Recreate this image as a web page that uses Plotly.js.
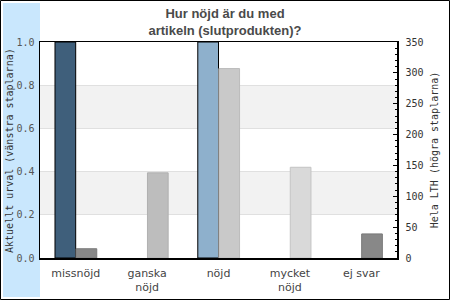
<!DOCTYPE html>
<html>
<head>
<meta charset="utf-8">
<script src="https://cdn.plot.ly/plotly-3.0.1.min.js"></script>
<style>html,body{margin:0;padding:0;background:#fff}#chart{width:450px;height:300px}</style>
</head>
<body>
<div id="chart"></div>
<script>
var categories = ['missnöjd', 'ganska<br>nöjd', 'nöjd', 'mycket<br>nöjd', 'ej svar'];
var urvalValues = [1.0, 0, 1.0, 0, 0];
var lthValues = [15, 138, 307, 147, 39];
var urvalColors = ['#3f5f7b', '#3f5f7b', '#8eb0cc', '#8eb0cc', '#8eb0cc'];
var lthColors = ['#888888', '#bdbdbd', '#c9c9c9', '#d9d9d9', '#888888'];
var lthLineColors = ['#7a7a7a', '#b0b0b0', '#bbbbbb', '#c4c4c4', '#7a7a7a'];
var titleText = 'Hur nöjd är du med<br>artikeln (slutprodukten)?';
var leftTitle = 'Aktuellt urval (vänstra staplarna)';
var rightTitle = 'Hela LTH (högra staplarna)';
var leftTicks = [0, 0.2, 0.4, 0.6, 0.8, 1.0];

var W = 450, H = 300, L = 40, R = 53, T = 42, B = 42;
var pw = W - L - R, ph = H - T - B;
function px(x) { return (x - L) / pw; }
function py(y) { return (H - B - y) / ph; }

var traces = [
  {
    type: 'bar', x: categories, y: urvalValues, yaxis: 'y',
    width: 0.29, offset: -0.29,
    marker: {color: urvalColors, line: {color: '#000', width: urvalValues.map(function (v) { return v ? 1 : 0; })}},
    hoverinfo: 'skip', showlegend: false
  },
  {
    type: 'bar', x: categories, y: lthValues, yaxis: 'y2',
    width: 0.29, offset: 0.005,
    marker: {color: lthColors, line: {color: lthLineColors, width: 1}},
    hoverinfo: 'skip', showlegend: false
  }
];

var shapes = [
  {type: 'rect', xref: 'paper', yref: 'paper', x0: px(3), x1: px(40), y0: py(297), y1: py(3),
   fillcolor: '#c9e7fd', line: {width: 0}, layer: 'below'},
  {type: 'rect', xref: 'paper', yref: 'y', x0: 0, x1: 1, y0: leftTicks[1], y1: leftTicks[2],
   fillcolor: '#f2f2f2', line: {width: 0}, layer: 'below'},
  {type: 'rect', xref: 'paper', yref: 'y', x0: 0, x1: 1, y0: leftTicks[3], y1: leftTicks[4],
   fillcolor: '#f2f2f2', line: {width: 0}, layer: 'below'},
  {type: 'rect', xref: 'paper', yref: 'paper', x0: px(0.5), x1: px(449.5), y0: py(299.5), y1: py(0.5),
   fillcolor: 'rgba(0,0,0,0)', line: {color: '#000', width: 1}, layer: 'above'}
];

var annotations = [
  {text: leftTitle, xref: 'paper', yref: 'paper', x: px(9.5), y: py(150.5),
   xanchor: 'center', yanchor: 'middle', textangle: -90, showarrow: false,
   font: {family: 'DejaVu Sans Mono, monospace', size: 10, color: '#333'}}
];

var layout = {
  width: W, height: H,
  margin: {l: L, r: R, t: T, b: B, pad: 0},
  paper_bgcolor: '#fff', plot_bgcolor: 'rgba(0,0,0,0)',
  showlegend: false,
  hovermode: false,
  title: {
    text: titleText,
    font: {family: 'Liberation Sans, Arial, sans-serif', size: 13, color: '#4a4a4a', weight: 'bold'},
    x: 0.5, xref: 'container', xanchor: 'center',
    y: 1 - 18 / H, yref: 'container', yanchor: 'top'
  },
  xaxis: {
    showline: true, linecolor: '#000', linewidth: 1.5, mirror: true,
    ticks: '', showgrid: false, zeroline: false,
    tickfont: {family: 'DejaVu Sans, sans-serif', size: 11, color: '#444'},
    ticklabelstandoff: 4,
    fixedrange: true
  },
  yaxis: {
    range: [0, 1], tickvals: leftTicks, tickformat: '.1f',
    showline: true, linecolor: '#000', linewidth: 1.5,
    ticks: '', showgrid: true, gridcolor: '#e0e0e0', gridwidth: 1, zeroline: false,
    tickfont: {family: 'DejaVu Sans Mono, monospace', size: 10, color: '#555'},
    ticklabelstandoff: 2,
    fixedrange: true
  },
  yaxis2: {
    overlaying: 'y', side: 'right',
    range: [0, 350], dtick: 50,
    showline: true, linecolor: '#000', linewidth: 1.5,
    ticks: 'inside', ticklen: 4, tickcolor: '#000', tickwidth: 1,
    minor: {dtick: 10, ticks: 'inside', ticklen: 2, tickcolor: '#000', tickwidth: 1},
    showgrid: false, zeroline: false,
    tickfont: {family: 'DejaVu Sans Mono, monospace', size: 10, color: '#333'},
    ticklabelstandoff: 5,
    title: {text: rightTitle, font: {family: 'DejaVu Sans Mono, monospace', size: 10, color: '#333'}, standoff: 8},
    fixedrange: true
  },
  shapes: shapes,
  annotations: annotations
};

Plotly.newPlot('chart', traces, layout, {staticPlot: true, displayModeBar: false});
</script>
</body>
</html>
